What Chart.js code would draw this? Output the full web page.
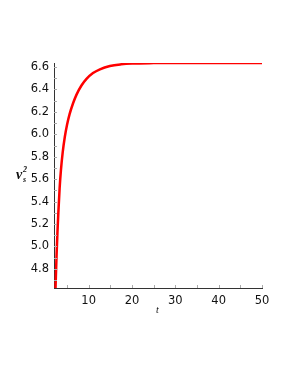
<!DOCTYPE html>
<html>
<head>
<meta charset="utf-8">
<script src="https://cdn.jsdelivr.net/npm/chart.js@4/dist/chart.umd.min.js"></script>
<style>
  body { margin: 0; background: #fff; }
  #wrap { position: relative; width: 291px; height: 376px; }
  .ylab { position: absolute; font-family: "Liberation Serif", serif; font-weight: bold; font-style: italic; color: #111; line-height: 1; }
  .xlab { position: absolute; left: 156px; top: 304px; font-family: "Liberation Serif", serif; font-style: italic; font-size: 10px; color: #111; }
</style>
</head>
<body>
<div id="wrap">
  <canvas id="chart" width="291" height="376"></canvas>
  <span class="ylab" style="left:16px; top:168px; font-size:14px;">v</span>
  <span class="ylab" style="left:23px; top:176px; font-size:8px;">s</span>
  <span class="ylab" style="left:23px; top:166px; font-size:8px;">2</span>
  <div class="xlab">t</div>
</div>
<script>
// values
const tValues = [2.35, 2.6, 2.8, 3.0, 3.3, 3.6, 4.0, 4.5, 5.0, 5.6, 6.4, 7.2, 8.3, 9.5, 11, 12.6, 14.9, 17.5, 20, 25, 30, 40, 50];
const vsValues = [4.63, 4.93, 5.13, 5.30, 5.52, 5.68, 5.836, 5.978, 6.083, 6.18, 6.277, 6.354, 6.433, 6.494, 6.546, 6.58, 6.609, 6.624, 6.631, 6.635, 6.636, 6.636, 6.636];
const xTicks = [10, 20, 30, 40, 50];
const yTicks = [4.8, 5.0, 5.2, 5.4, 5.6, 5.8, 6.0, 6.2, 6.4, 6.6];

const points = tValues.map(function(t, i) {
    return { x: t, y: vsValues[i] };
});

// small tick marks drawn inside the plot, like the original
const innerTicks = {
    id: 'innerTicks',
    afterDraw(chart) {
        const ctx = chart.ctx;
        const xs = chart.scales.x;
        const ys = chart.scales.y;
        ctx.save();
        ctx.strokeStyle = '#aaa';
        ctx.lineWidth = 1;
        ctx.beginPath();
        for (let v = 5; v <= 50; v += 5) {
            const px = Math.round(xs.getPixelForValue(v)) + 0.5;
            ctx.moveTo(px, ys.bottom);
            ctx.lineTo(px, ys.bottom - 3);
        }
        for (let v = 4.7; v <= 6.65; v += 0.1) {
            const py = Math.round(ys.getPixelForValue(v)) + 0.5;
            ctx.moveTo(xs.left, py);
            ctx.lineTo(xs.left + 3, py);
        }
        ctx.stroke();
        ctx.restore();
    }
};

new Chart(document.getElementById('chart'), {
    type: 'line',
    data: {
        datasets: [{
            data: points,
            borderColor: '#ff0000',
            borderWidth: 2.5,
            pointRadius: 0,
            cubicInterpolationMode: 'monotone',
            fill: false
        }]
    },
    options: {
        responsive: false,
        animation: false,
        layout: { padding: { left: 0, right: 29, top: 63, bottom: 58 } },
        plugins: { legend: { display: false }, tooltip: { enabled: false } },
        scales: {
            x: {
                type: 'linear',
                min: 2,
                max: 50,
                grid: { display: false, drawTicks: false },
                border: { display: true, color: '#333', width: 1 },
                afterFit: function(scale) { scale.height = 30; },
                afterBuildTicks: function(scale) {
                    scale.ticks = xTicks.map(function(v) { return { value: v }; });
                },
                ticks: {
                    padding: 6,
                    color: '#111',
                    font: { family: 'DejaVu Sans', size: 11.5 }
                }
            },
            y: {
                min: 4.63,
                max: 6.636,
                grid: { display: false, drawTicks: false },
                border: { display: true, color: '#333', width: 1 },
                afterFit: function(scale) { scale.width = 54; },
                afterBuildTicks: function(scale) {
                    scale.ticks = yTicks.map(function(v) { return { value: v }; });
                },
                ticks: {
                    padding: 5,
                    color: '#111',
                    font: { family: 'DejaVu Sans', size: 11.5 },
                    callback: function(v) { return v.toFixed(1); }
                }
            }
        }
    },
    plugins: [innerTicks]
});
</script>
</body>
</html>
